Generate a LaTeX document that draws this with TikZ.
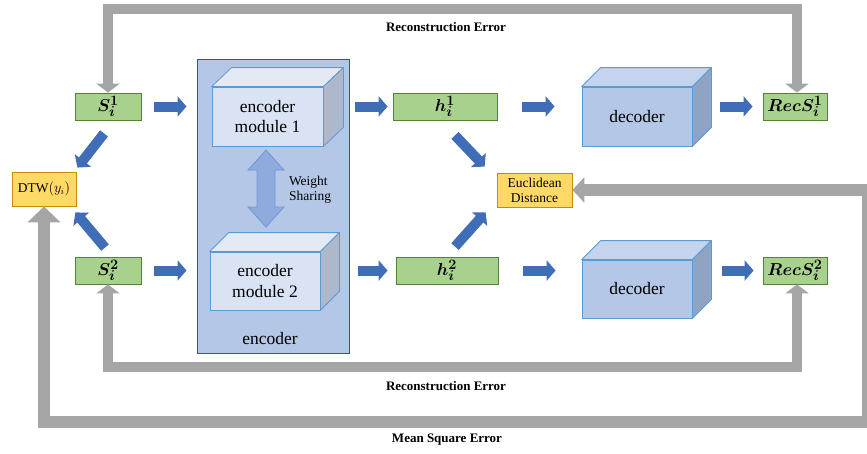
\documentclass[tikz,border=0pt]{standalone}
\usepackage{fontspec}
\setmainfont{Liberation Serif}
\usepackage{bm}
\usetikzlibrary{arrows.meta,calc}
\definecolor{gfill}{HTML}{A9D18E}
\definecolor{gdraw}{HTML}{548235}
\definecolor{yfill}{HTML}{FFD966}
\definecolor{ydraw}{HTML}{BF9000}
\definecolor{barr}{HTML}{3F6DB8}
\definecolor{grayc}{HTML}{A5A5A5}
\definecolor{encfill}{HTML}{B4C7E7}
\definecolor{encdraw}{HTML}{2F5597}
\definecolor{edgec}{HTML}{5B9BD5}
\definecolor{mfront}{HTML}{DAE3F3}
\definecolor{mtop}{HTML}{E4EAF5}
\definecolor{mside}{HTML}{ADB9CA}
\definecolor{dfront}{HTML}{B4C7E7}
\definecolor{dtop}{HTML}{C5D4EE}
\definecolor{dside}{HTML}{8FA3C2}
\definecolor{wsfill}{HTML}{8FAADC}
\definecolor{wsdraw}{HTML}{6F97D8}
\newcommand{\mycube}[4]{%
  \filldraw[fill=#2,draw=edgec,line width=0.8pt,line join=round]
    (#1.north west) -- ($(#1.north west)+(#4)$) -- ($(#1.north east)+(#4)$) -- (#1.north east) -- cycle;
  \filldraw[fill=#3,draw=edgec,line width=0.8pt,line join=round]
    (#1.north east) -- ($(#1.north east)+(#4)$) -- ($(#1.south east)+(#4)$) -- (#1.south east) -- cycle;
}
\begin{document}
\begin{tikzpicture}[x=1pt,y=-1pt,
  gbox/.style={draw=gdraw,fill=gfill,line width=0.8pt,minimum height=27pt,inner sep=0pt,font=\fontsize{19}{22}\selectfont},
  ybox/.style={draw=ydraw,fill=yfill,line width=0.8pt,minimum height=34pt,inner sep=0pt,align=center,font=\fontsize{13.5}{15}\selectfont},
  mface/.style={draw=edgec,fill=mfront,line width=0.8pt,inner sep=0pt,align=center,font=\fontsize{17.5}{20.5}\selectfont},
  dface/.style={draw=edgec,fill=dfront,line width=0.8pt,inner sep=0pt,align=center,font=\fontsize{17.5}{20.5}\selectfont},
  barrow/.style={line width=10pt,color=barr,-{Triangle[length=9pt,width=20pt]}},
  recloop/.style={line width=10.5pt,color=grayc,{Triangle[length=9pt,width=23pt]}-{Triangle[length=9pt,width=23pt]}},
  mseloop/.style={line width=12.5pt,color=grayc,{Triangle[length=16pt,width=32pt]}-{Triangle[length=12pt,width=25pt]}},
  errlabel/.style={font=\fontsize{13}{15}\selectfont\bfseries,inner sep=0pt}
]
\useasboundingbox (0,0) rectangle (867,453);
\fill[white] (0,0) rectangle (867,453);

% encoder container
\node[draw=encdraw,fill=encfill,line width=1pt,minimum width=152pt,minimum height=294pt,inner sep=0pt] (enc) at (273,206) {};
\node[font=\fontsize{17.5}{20.5}\selectfont,inner sep=0pt] (enclabel) at (270,339) {encoder};

% cubes
\node[mface,minimum width=111pt,minimum height=59pt] (m1) at (267.5,116.5) {encoder\\module 1};
\mycube{m1}{mtop}{mside}{20,-19}
\node[mface,minimum width=110pt,minimum height=58pt] (m2) at (265,281) {encoder\\module 2};
\mycube{m2}{mtop}{mside}{19,-19}
\node[dface,minimum width=110pt,minimum height=59pt] (d1) at (637,116.5) {decoder};
\mycube{d1}{dtop}{dside}{19,-19}
\node[dface,minimum width=110pt,minimum height=58pt] (d2) at (637,289) {decoder};
\mycube{d2}{dtop}{dside}{19,-19}

% weight sharing double arrow
\filldraw[draw=wsdraw,fill=wsfill,line width=0.8pt,line join=miter]
  (266,150) -- (284,170) -- (275,170) -- (275,207) -- (284,207) -- (266,227)
  -- (248,207) -- (257,207) -- (257,170) -- (248,170) -- cycle;
\node[align=left,font=\fontsize{13.5}{14.5}\selectfont,inner sep=0pt] (wslabel) at (310,190) {Weight\\Sharing};

% green boxes
\node[gbox,minimum width=66pt] (S1) at (108,106.5) {$\bm{S_i^1}$};
\node[gbox,minimum width=66pt] (S2) at (108,270.5) {$\bm{S_i^2}$};
\node[gbox,minimum width=104pt] (h1) at (445,106.5) {$\bm{h_i^1}$};
\node[gbox,minimum width=102pt] (h2) at (447,270.5) {$\bm{h_i^2}$};
\node[gbox,minimum width=64pt] (R1) at (795,106.5) {$\bm{RecS_i^1}$};
\node[gbox,minimum width=64pt] (R2) at (795,270.5) {$\bm{RecS_i^2}$};

% yellow boxes
\node[ybox,minimum width=64pt] (DTW) at (44,189) {DTW$(y_i)$};
\node[ybox,minimum width=75pt] (EU) at (534.5,190) {Euclidean\\Distance};

% blue arrows
\draw[barrow,shorten <=13pt,shorten >=10pt] (S1.east) -- (enc.west |- S1.east);
\draw[barrow,shorten <=13pt,shorten >=10pt] (S2.east) -- (enc.west |- S2.east);
\draw[barrow,shorten <=5pt,shorten >=5pt] (enc.east |- h1.west) -- (h1.west);
\draw[barrow,shorten <=8pt,shorten >=8pt] (enc.east |- h2.west) -- (h2.west);
\draw[barrow,shorten <=25pt,shorten >=27pt] (h1.east) -- (d1.west |- h1.east);
\draw[barrow,shorten <=25pt,shorten >=26pt] (h2.east) -- (d2.west |- h2.east);
\draw[barrow,shorten <=28pt,shorten >=10pt] (d1.east |- R1.west) -- (R1.west);
\draw[barrow,shorten <=30pt,shorten >=9pt] (d2.east |- R2.west) -- (R2.west);
\draw[barrow] ($(S1.south)+(-4,13)$) -- ($(DTW.north east)+(1,-4)$);
\draw[barrow] ($(S2.north)+(-3,-9)$) -- ($(DTW.south east)+(-1,6)$);
\draw[barrow] ($(h1.south)+(10,15)$) -- ($(EU.north west)+(-12,-6)$);
\draw[barrow] ($(h2.north)+(8,-10)$) -- ($(EU.south west)+(-11,5)$);

% gray loops
\coordinate (topy) at (0,9);
\coordinate (boty) at (0,367);
\coordinate (msey) at (0,422);
\coordinate (rx) at (868,0);
\coordinate (R1top) at ($(R1.north)+(2,0)$);
\coordinate (R2bot) at ($(R2.south)+(2,0)$);
\draw[recloop] (S1.north) -- (S1.north |- topy) -- (R1top |- topy) -- (R1top);
\draw[recloop] (S2.south) -- (S2.south |- boty) -- (R2bot |- boty) -- (R2bot);
\draw[mseloop] (DTW.south) -- (DTW.south |- msey) -- (rx |- msey) -- (rx |- EU.east) -- (EU.east);

% labels
\node[errlabel] (rec1) at (446,27) {Reconstruction Error};
\node[errlabel] (rec2) at (446,386) {Reconstruction Error};
\node[errlabel] (mse) at (447,440) {Mean Square Error};
\end{tikzpicture}
\end{document}
